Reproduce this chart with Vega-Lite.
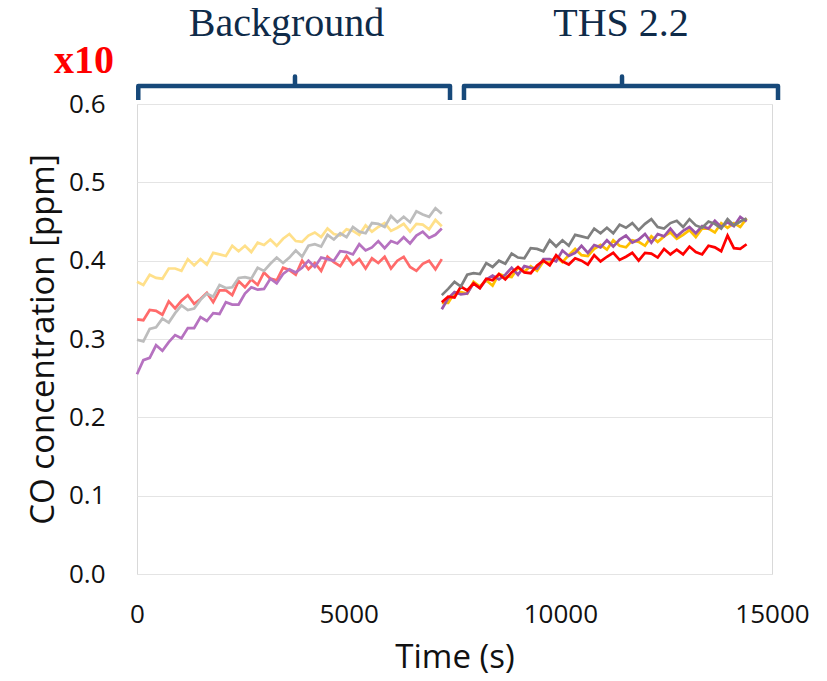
{
"$schema": "https://vega.github.io/schema/vega-lite/v6.json",
"width": 635, "height": 470,
"autosize": "none",
"padding": {"left": 137, "top": 104, "right": 55, "bottom": 107},
"background": "white",
"config": {"view": {"stroke": "#D9D9D9", "strokeWidth": 1}},
"datasets": {
"series": [
{"s":"b1","t":0,"v":0.373},{"s":"b1","t":150,"v":0.369},{"s":"b1","t":300,"v":0.382},{"s":"b1","t":450,"v":0.378},{"s":"b1","t":600,"v":0.377},{"s":"b1","t":750,"v":0.390},{"s":"b1","t":900,"v":0.390},{"s":"b1","t":1050,"v":0.387},{"s":"b1","t":1200,"v":0.402},{"s":"b1","t":1350,"v":0.394},{"s":"b1","t":1500,"v":0.402},{"s":"b1","t":1650,"v":0.395},{"s":"b1","t":1800,"v":0.410},{"s":"b1","t":1950,"v":0.408},{"s":"b1","t":2100,"v":0.406},{"s":"b1","t":2250,"v":0.419},{"s":"b1","t":2400,"v":0.412},{"s":"b1","t":2550,"v":0.419},{"s":"b1","t":2700,"v":0.411},{"s":"b1","t":2850,"v":0.423},{"s":"b1","t":3000,"v":0.420},{"s":"b1","t":3150,"v":0.427},{"s":"b1","t":3300,"v":0.419},{"s":"b1","t":3450,"v":0.428},{"s":"b1","t":3600,"v":0.434},{"s":"b1","t":3750,"v":0.425},{"s":"b1","t":3900,"v":0.424},{"s":"b1","t":4050,"v":0.432},{"s":"b1","t":4200,"v":0.436},{"s":"b1","t":4350,"v":0.430},{"s":"b1","t":4500,"v":0.441},{"s":"b1","t":4650,"v":0.434},{"s":"b1","t":4800,"v":0.432},{"s":"b1","t":4950,"v":0.440},{"s":"b1","t":5100,"v":0.438},{"s":"b1","t":5250,"v":0.433},{"s":"b1","t":5400,"v":0.445},{"s":"b1","t":5550,"v":0.437},{"s":"b1","t":5700,"v":0.443},{"s":"b1","t":5850,"v":0.448},{"s":"b1","t":6000,"v":0.438},{"s":"b1","t":6150,"v":0.442},{"s":"b1","t":6300,"v":0.447},{"s":"b1","t":6450,"v":0.437},{"s":"b1","t":6600,"v":0.447},{"s":"b1","t":6750,"v":0.446},{"s":"b1","t":6900,"v":0.440},{"s":"b1","t":7050,"v":0.452},{"s":"b1","t":7200,"v":0.444},
{"s":"b2","t":0,"v":0.325},{"s":"b2","t":150,"v":0.324},{"s":"b2","t":300,"v":0.337},{"s":"b2","t":450,"v":0.336},{"s":"b2","t":600,"v":0.331},{"s":"b2","t":750,"v":0.348},{"s":"b2","t":900,"v":0.339},{"s":"b2","t":1050,"v":0.349},{"s":"b2","t":1200,"v":0.356},{"s":"b2","t":1350,"v":0.345},{"s":"b2","t":1500,"v":0.351},{"s":"b2","t":1650,"v":0.359},{"s":"b2","t":1800,"v":0.347},{"s":"b2","t":1950,"v":0.362},{"s":"b2","t":2100,"v":0.362},{"s":"b2","t":2250,"v":0.356},{"s":"b2","t":2400,"v":0.374},{"s":"b2","t":2550,"v":0.366},{"s":"b2","t":2700,"v":0.376},{"s":"b2","t":2850,"v":0.369},{"s":"b2","t":3000,"v":0.385},{"s":"b2","t":3150,"v":0.377},{"s":"b2","t":3300,"v":0.375},{"s":"b2","t":3450,"v":0.391},{"s":"b2","t":3600,"v":0.388},{"s":"b2","t":3750,"v":0.382},{"s":"b2","t":3900,"v":0.400},{"s":"b2","t":4050,"v":0.389},{"s":"b2","t":4200,"v":0.397},{"s":"b2","t":4350,"v":0.387},{"s":"b2","t":4500,"v":0.405},{"s":"b2","t":4650,"v":0.398},{"s":"b2","t":4800,"v":0.393},{"s":"b2","t":4950,"v":0.406},{"s":"b2","t":5100,"v":0.395},{"s":"b2","t":5250,"v":0.402},{"s":"b2","t":5400,"v":0.390},{"s":"b2","t":5550,"v":0.403},{"s":"b2","t":5700,"v":0.397},{"s":"b2","t":5850,"v":0.405},{"s":"b2","t":6000,"v":0.390},{"s":"b2","t":6150,"v":0.400},{"s":"b2","t":6300,"v":0.405},{"s":"b2","t":6450,"v":0.392},{"s":"b2","t":6600,"v":0.387},{"s":"b2","t":6750,"v":0.396},{"s":"b2","t":6900,"v":0.400},{"s":"b2","t":7050,"v":0.389},{"s":"b2","t":7200,"v":0.402},
{"s":"b3","t":0,"v":0.299},{"s":"b3","t":150,"v":0.297},{"s":"b3","t":300,"v":0.313},{"s":"b3","t":450,"v":0.315},{"s":"b3","t":600,"v":0.326},{"s":"b3","t":750,"v":0.321},{"s":"b3","t":900,"v":0.333},{"s":"b3","t":1050,"v":0.343},{"s":"b3","t":1200,"v":0.337},{"s":"b3","t":1350,"v":0.339},{"s":"b3","t":1500,"v":0.350},{"s":"b3","t":1650,"v":0.358},{"s":"b3","t":1800,"v":0.354},{"s":"b3","t":1950,"v":0.369},{"s":"b3","t":2100,"v":0.365},{"s":"b3","t":2250,"v":0.366},{"s":"b3","t":2400,"v":0.378},{"s":"b3","t":2550,"v":0.379},{"s":"b3","t":2700,"v":0.377},{"s":"b3","t":2850,"v":0.391},{"s":"b3","t":3000,"v":0.387},{"s":"b3","t":3150,"v":0.396},{"s":"b3","t":3300,"v":0.404},{"s":"b3","t":3450,"v":0.397},{"s":"b3","t":3600,"v":0.404},{"s":"b3","t":3750,"v":0.413},{"s":"b3","t":3900,"v":0.405},{"s":"b3","t":4050,"v":0.419},{"s":"b3","t":4200,"v":0.421},{"s":"b3","t":4350,"v":0.418},{"s":"b3","t":4500,"v":0.433},{"s":"b3","t":4650,"v":0.427},{"s":"b3","t":4800,"v":0.435},{"s":"b3","t":4950,"v":0.430},{"s":"b3","t":5100,"v":0.443},{"s":"b3","t":5250,"v":0.437},{"s":"b3","t":5400,"v":0.435},{"s":"b3","t":5550,"v":0.448},{"s":"b3","t":5700,"v":0.447},{"s":"b3","t":5850,"v":0.443},{"s":"b3","t":6000,"v":0.457},{"s":"b3","t":6150,"v":0.449},{"s":"b3","t":6300,"v":0.456},{"s":"b3","t":6450,"v":0.449},{"s":"b3","t":6600,"v":0.463},{"s":"b3","t":6750,"v":0.459},{"s":"b3","t":6900,"v":0.456},{"s":"b3","t":7050,"v":0.467},{"s":"b3","t":7200,"v":0.460},
{"s":"b4","t":0,"v":0.255},{"s":"b4","t":150,"v":0.273},{"s":"b4","t":300,"v":0.276},{"s":"b4","t":450,"v":0.292},{"s":"b4","t":600,"v":0.285},{"s":"b4","t":750,"v":0.296},{"s":"b4","t":900,"v":0.305},{"s":"b4","t":1050,"v":0.301},{"s":"b4","t":1200,"v":0.314},{"s":"b4","t":1350,"v":0.314},{"s":"b4","t":1500,"v":0.328},{"s":"b4","t":1650,"v":0.323},{"s":"b4","t":1800,"v":0.333},{"s":"b4","t":1950,"v":0.332},{"s":"b4","t":2100,"v":0.347},{"s":"b4","t":2250,"v":0.344},{"s":"b4","t":2400,"v":0.344},{"s":"b4","t":2550,"v":0.358},{"s":"b4","t":2700,"v":0.366},{"s":"b4","t":2850,"v":0.363},{"s":"b4","t":3000,"v":0.364},{"s":"b4","t":3150,"v":0.377},{"s":"b4","t":3300,"v":0.371},{"s":"b4","t":3450,"v":0.383},{"s":"b4","t":3600,"v":0.389},{"s":"b4","t":3750,"v":0.385},{"s":"b4","t":3900,"v":0.391},{"s":"b4","t":4050,"v":0.400},{"s":"b4","t":4200,"v":0.392},{"s":"b4","t":4350,"v":0.404},{"s":"b4","t":4500,"v":0.402},{"s":"b4","t":4650,"v":0.400},{"s":"b4","t":4800,"v":0.412},{"s":"b4","t":4950,"v":0.411},{"s":"b4","t":5100,"v":0.408},{"s":"b4","t":5250,"v":0.421},{"s":"b4","t":5400,"v":0.413},{"s":"b4","t":5550,"v":0.417},{"s":"b4","t":5700,"v":0.425},{"s":"b4","t":5850,"v":0.416},{"s":"b4","t":6000,"v":0.425},{"s":"b4","t":6150,"v":0.422},{"s":"b4","t":6300,"v":0.430},{"s":"b4","t":6450,"v":0.422},{"s":"b4","t":6600,"v":0.432},{"s":"b4","t":6750,"v":0.437},{"s":"b4","t":6900,"v":0.429},{"s":"b4","t":7050,"v":0.433},{"s":"b4","t":7200,"v":0.441},
{"s":"h1","t":7200,"v":0.346},{"s":"h1","t":7350,"v":0.346},{"s":"h1","t":7500,"v":0.359},{"s":"h1","t":7650,"v":0.360},{"s":"h1","t":7800,"v":0.358},{"s":"h1","t":7950,"v":0.373},{"s":"h1","t":8100,"v":0.367},{"s":"h1","t":8250,"v":0.375},{"s":"h1","t":8400,"v":0.368},{"s":"h1","t":8550,"v":0.383},{"s":"h1","t":8700,"v":0.380},{"s":"h1","t":8850,"v":0.379},{"s":"h1","t":9000,"v":0.391},{"s":"h1","t":9150,"v":0.386},{"s":"h1","t":9300,"v":0.393},{"s":"h1","t":9450,"v":0.387},{"s":"h1","t":9600,"v":0.399},{"s":"h1","t":9750,"v":0.397},{"s":"h1","t":9900,"v":0.405},{"s":"h1","t":10050,"v":0.398},{"s":"h1","t":10200,"v":0.407},{"s":"h1","t":10350,"v":0.415},{"s":"h1","t":10500,"v":0.407},{"s":"h1","t":10650,"v":0.406},{"s":"h1","t":10800,"v":0.415},{"s":"h1","t":10950,"v":0.420},{"s":"h1","t":11100,"v":0.414},{"s":"h1","t":11250,"v":0.426},{"s":"h1","t":11400,"v":0.419},{"s":"h1","t":11550,"v":0.417},{"s":"h1","t":11700,"v":0.426},{"s":"h1","t":11850,"v":0.424},{"s":"h1","t":12000,"v":0.419},{"s":"h1","t":12150,"v":0.431},{"s":"h1","t":12300,"v":0.424},{"s":"h1","t":12450,"v":0.431},{"s":"h1","t":12600,"v":0.436},{"s":"h1","t":12750,"v":0.428},{"s":"h1","t":12900,"v":0.433},{"s":"h1","t":13050,"v":0.439},{"s":"h1","t":13200,"v":0.430},{"s":"h1","t":13350,"v":0.441},{"s":"h1","t":13500,"v":0.441},{"s":"h1","t":13650,"v":0.436},{"s":"h1","t":13800,"v":0.448},{"s":"h1","t":13950,"v":0.442},{"s":"h1","t":14100,"v":0.448},{"s":"h1","t":14250,"v":0.443},{"s":"h1","t":14400,"v":0.454},
{"s":"h2","t":7200,"v":0.338},{"s":"h2","t":7350,"v":0.352},{"s":"h2","t":7500,"v":0.360},{"s":"h2","t":7650,"v":0.357},{"s":"h2","t":7800,"v":0.358},{"s":"h2","t":7950,"v":0.371},{"s":"h2","t":8100,"v":0.365},{"s":"h2","t":8250,"v":0.376},{"s":"h2","t":8400,"v":0.381},{"s":"h2","t":8550,"v":0.376},{"s":"h2","t":8700,"v":0.382},{"s":"h2","t":8850,"v":0.391},{"s":"h2","t":9000,"v":0.382},{"s":"h2","t":9150,"v":0.393},{"s":"h2","t":9300,"v":0.391},{"s":"h2","t":9450,"v":0.390},{"s":"h2","t":9600,"v":0.402},{"s":"h2","t":9750,"v":0.402},{"s":"h2","t":9900,"v":0.399},{"s":"h2","t":10050,"v":0.413},{"s":"h2","t":10200,"v":0.406},{"s":"h2","t":10350,"v":0.410},{"s":"h2","t":10500,"v":0.419},{"s":"h2","t":10650,"v":0.410},{"s":"h2","t":10800,"v":0.420},{"s":"h2","t":10950,"v":0.417},{"s":"h2","t":11100,"v":0.426},{"s":"h2","t":11250,"v":0.418},{"s":"h2","t":11400,"v":0.427},{"s":"h2","t":11550,"v":0.432},{"s":"h2","t":11700,"v":0.423},{"s":"h2","t":11850,"v":0.427},{"s":"h2","t":12000,"v":0.434},{"s":"h2","t":12150,"v":0.423},{"s":"h2","t":12300,"v":0.434},{"s":"h2","t":12450,"v":0.431},{"s":"h2","t":12600,"v":0.441},{"s":"h2","t":12750,"v":0.431},{"s":"h2","t":12900,"v":0.438},{"s":"h2","t":13050,"v":0.443},{"s":"h2","t":13200,"v":0.435},{"s":"h2","t":13350,"v":0.444},{"s":"h2","t":13500,"v":0.441},{"s":"h2","t":13650,"v":0.451},{"s":"h2","t":13800,"v":0.443},{"s":"h2","t":13950,"v":0.449},{"s":"h2","t":14100,"v":0.444},{"s":"h2","t":14250,"v":0.456},{"s":"h2","t":14400,"v":0.450},
{"s":"h3","t":7200,"v":0.347},{"s":"h3","t":7350,"v":0.354},{"s":"h3","t":7500,"v":0.353},{"s":"h3","t":7650,"v":0.367},{"s":"h3","t":7800,"v":0.362},{"s":"h3","t":7950,"v":0.371},{"s":"h3","t":8100,"v":0.365},{"s":"h3","t":8250,"v":0.377},{"s":"h3","t":8400,"v":0.375},{"s":"h3","t":8550,"v":0.383},{"s":"h3","t":8700,"v":0.376},{"s":"h3","t":8850,"v":0.385},{"s":"h3","t":9000,"v":0.392},{"s":"h3","t":9150,"v":0.385},{"s":"h3","t":9300,"v":0.384},{"s":"h3","t":9450,"v":0.394},{"s":"h3","t":9600,"v":0.400},{"s":"h3","t":9750,"v":0.394},{"s":"h3","t":9900,"v":0.407},{"s":"h3","t":10050,"v":0.399},{"s":"h3","t":10200,"v":0.395},{"s":"h3","t":10350,"v":0.403},{"s":"h3","t":10500,"v":0.400},{"s":"h3","t":10650,"v":0.395},{"s":"h3","t":10800,"v":0.407},{"s":"h3","t":10950,"v":0.399},{"s":"h3","t":11100,"v":0.405},{"s":"h3","t":11250,"v":0.410},{"s":"h3","t":11400,"v":0.401},{"s":"h3","t":11550,"v":0.405},{"s":"h3","t":11700,"v":0.410},{"s":"h3","t":11850,"v":0.400},{"s":"h3","t":12000,"v":0.410},{"s":"h3","t":12150,"v":0.409},{"s":"h3","t":12300,"v":0.404},{"s":"h3","t":12450,"v":0.415},{"s":"h3","t":12600,"v":0.408},{"s":"h3","t":12750,"v":0.414},{"s":"h3","t":12900,"v":0.408},{"s":"h3","t":13050,"v":0.418},{"s":"h3","t":13200,"v":0.411},{"s":"h3","t":13350,"v":0.408},{"s":"h3","t":13500,"v":0.419},{"s":"h3","t":13650,"v":0.417},{"s":"h3","t":13800,"v":0.412},{"s":"h3","t":13950,"v":0.432},{"s":"h3","t":14100,"v":0.416},{"s":"h3","t":14250,"v":0.415},{"s":"h3","t":14400,"v":0.421},
{"s":"h4","t":7200,"v":0.356},{"s":"h4","t":7350,"v":0.364},{"s":"h4","t":7500,"v":0.373},{"s":"h4","t":7650,"v":0.367},{"s":"h4","t":7800,"v":0.382},{"s":"h4","t":7950,"v":0.384},{"s":"h4","t":8100,"v":0.383},{"s":"h4","t":8250,"v":0.397},{"s":"h4","t":8400,"v":0.392},{"s":"h4","t":8550,"v":0.400},{"s":"h4","t":8700,"v":0.396},{"s":"h4","t":8850,"v":0.409},{"s":"h4","t":9000,"v":0.404},{"s":"h4","t":9150,"v":0.403},{"s":"h4","t":9300,"v":0.416},{"s":"h4","t":9450,"v":0.415},{"s":"h4","t":9600,"v":0.412},{"s":"h4","t":9750,"v":0.426},{"s":"h4","t":9900,"v":0.418},{"s":"h4","t":10050,"v":0.426},{"s":"h4","t":10200,"v":0.419},{"s":"h4","t":10350,"v":0.433},{"s":"h4","t":10500,"v":0.431},{"s":"h4","t":10650,"v":0.429},{"s":"h4","t":10800,"v":0.441},{"s":"h4","t":10950,"v":0.435},{"s":"h4","t":11100,"v":0.442},{"s":"h4","t":11250,"v":0.435},{"s":"h4","t":11400,"v":0.446},{"s":"h4","t":11550,"v":0.442},{"s":"h4","t":11700,"v":0.448},{"s":"h4","t":11850,"v":0.439},{"s":"h4","t":12000,"v":0.447},{"s":"h4","t":12150,"v":0.453},{"s":"h4","t":12300,"v":0.443},{"s":"h4","t":12450,"v":0.441},{"s":"h4","t":12600,"v":0.448},{"s":"h4","t":12750,"v":0.451},{"s":"h4","t":12900,"v":0.443},{"s":"h4","t":13050,"v":0.453},{"s":"h4","t":13200,"v":0.445},{"s":"h4","t":13350,"v":0.442},{"s":"h4","t":13500,"v":0.450},{"s":"h4","t":13650,"v":0.447},{"s":"h4","t":13800,"v":0.441},{"s":"h4","t":13950,"v":0.453},{"s":"h4","t":14100,"v":0.445},{"s":"h4","t":14250,"v":0.450},{"s":"h4","t":14400,"v":0.454}
],
"brackets": [
{"b":"bg","k":0,"t":30,"v":0.605},{"b":"bg","k":1,"t":30,"v":0.623},{"b":"bg","k":2,"t":3732,"v":0.623},{"b":"bg","k":3,"t":3732,"v":0.635},{"b":"bg","k":4,"t":3732,"v":0.623},{"b":"bg","k":5,"t":7394,"v":0.623},{"b":"bg","k":6,"t":7394,"v":0.605},
{"b":"ths","k":0,"t":7724,"v":0.605},{"b":"ths","k":1,"t":7724,"v":0.623},{"b":"ths","k":2,"t":11457,"v":0.623},{"b":"ths","k":3,"t":11457,"v":0.635},{"b":"ths","k":4,"t":11457,"v":0.623},{"b":"ths","k":5,"t":15142,"v":0.623},{"b":"ths","k":6,"t":15142,"v":0.605}
],
"labels": [
{"txt":"Background","t":3531,"v":0.6868,"kind":"head"},
{"txt":"THS 2.2","t":11433,"v":0.6868,"kind":"head"},
{"txt":"x10","t":-1252,"v":0.6396,"kind":"mult"}
]
},
"layer": [
{
"data": {"name": "series"},
"mark": {"type": "line", "strokeWidth": 2.7, "clip": false},
"encoding": {
"x": {"field": "t", "type": "quantitative", "scale": {"domain": [0, 15000], "nice": false},
 "axis": {"title": "Time (s)", "values": [0, 5000, 10000, 15000], "format": "d", "grid": false, "domain": false, "ticks": false, "labelFlush": false, "labelOverlap": false,
 "labelFont": "Open Sans", "labelFontSize": 26, "labelColor": "#111111", "labelPadding": 27,
 "titleFont": "Open Sans", "titleFontSize": 33, "titleFontWeight": "normal", "titleColor": "#111111", "titlePadding": 14}},
"y": {"field": "v", "type": "quantitative", "scale": {"domain": [0, 0.6], "nice": false, "zero": false},
 "axis": {"title": "CO concentration [ppm]", "values": [0, 0.1, 0.2, 0.3, 0.4, 0.5, 0.6], "format": ".1f", "grid": true, "gridColor": "#E4E4E4", "gridWidth": 1.2, "domain": false, "ticks": false,
 "labelFont": "Open Sans", "labelFontSize": 26, "labelColor": "#111111", "labelPadding": 32,
 "titleFont": "Open Sans", "titleFontSize": 33, "titleFontWeight": "normal", "titleColor": "#111111", "titlePadding": 8}},
"color": {"field": "s", "type": "nominal", "legend": null,
 "scale": {"domain": ["b1","b2","b3","b4","h1","h2","h3","h4"], "range": ["#FFE08A","#FF6B6B","#BDBDBD","#B672C0","#FFC000","#9C55A8","#FF0000","#7F7F7F"]}}
}
},
{
"data": {"name": "brackets"},
"mark": {"type": "line", "stroke": "#17497A", "strokeWidth": 4.5, "strokeJoin": "round", "clip": false},
"encoding": {
"x": {"field": "t", "type": "quantitative"},
"y": {"field": "v", "type": "quantitative"},
"detail": {"field": "b"},
"order": {"field": "k", "type": "quantitative"}
}
},
{
"data": {"name": "labels"},
"transform": [{"filter": "datum.kind == 'head'"}],
"mark": {"type": "text", "font": "Liberation Serif", "fontSize": 40, "color": "#0F2B49", "align": "center", "baseline": "alphabetic", "clip": false},
"encoding": {
"x": {"field": "t", "type": "quantitative"},
"y": {"field": "v", "type": "quantitative"},
"text": {"field": "txt"}
}
},
{
"data": {"name": "labels"},
"transform": [{"filter": "datum.kind == 'mult'"}],
"mark": {"type": "text", "font": "Liberation Serif", "fontSize": 40, "fontWeight": "bold", "color": "#FF0000", "align": "center", "baseline": "alphabetic", "clip": false},
"encoding": {
"x": {"field": "t", "type": "quantitative"},
"y": {"field": "v", "type": "quantitative"},
"text": {"field": "txt"}
}
}
]
}
